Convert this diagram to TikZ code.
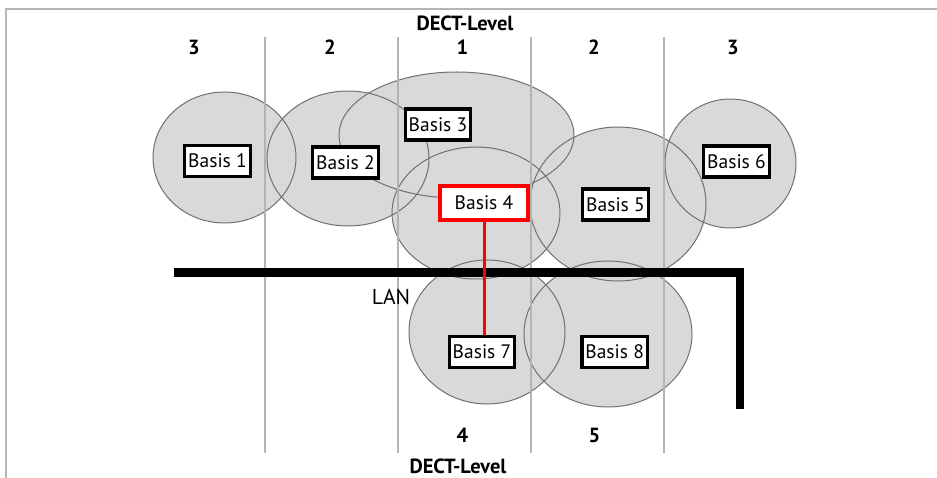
\documentclass[tikz,border=0pt]{standalone}
\usepackage{fontspec}
\setmainfont{PT Sans}
\definecolor{zonegray}{HTML}{D9D9D9}
\definecolor{zoneedge}{HTML}{707070}
\definecolor{gridgray}{HTML}{B3B3B3}
\definecolor{framegray}{HTML}{B5B5B5}
\definecolor{linkred}{HTML}{FF0000}
\begin{document}
\begin{tikzpicture}[x=1pt,y=-1pt,
  framestyle/.style={draw=framegray,line width=2.2pt},
  zonefill/.style={fill=zonegray},
  zoneline/.style={draw=zoneedge,line width=1pt},
  gridline/.style={draw=gridgray,line width=1.8pt},
  lanline/.style={draw=black,line width=8.5pt,line join=miter},
  linkline/.style={draw=linkred,line width=3pt},
  basis/.style={draw=black,fill=white,line width=3.3pt,inner xsep=3.5pt,inner ysep=2pt,
    minimum height=31pt,font=\fontsize{19.5}{20}\selectfont},
  lvl/.style={font=\bfseries\fontsize{20.5}{22}\selectfont,inner sep=0pt},
  lantext/.style={font=\fontsize{21.5}{23}\selectfont,inner sep=0pt}
  ]
\useasboundingbox (0,0) rectangle (937,478);
% frame
\coordinate (fbl) at (6,478);
\coordinate (ftl) at (6,9);
\coordinate (ftr) at (937,9);
\draw[framestyle] (fbl) -- (ftl) -- (ftr);
% zone centres
\coordinate (z1) at (224.5,157.5);
\coordinate (z2) at (348,158.5);
\coordinate (z3) at (456.5,135);
\coordinate (z4) at (476,213);
\coordinate (z5) at (618,204);
\coordinate (z6) at (730.5,163.5);
\coordinate (z7) at (487,332);
\coordinate (z8) at (608,334);
% fills
\fill[zonefill] (z1) ellipse [x radius=71.5pt,y radius=65.5pt];
\fill[zonefill] (z2) ellipse [x radius=81pt,y radius=67.5pt];
\fill[zonefill] (z3) ellipse [x radius=117.5pt,y radius=63pt];
\fill[zonefill] (z4) ellipse [x radius=84pt,y radius=66pt];
\fill[zonefill] (z5) ellipse [x radius=88pt,y radius=77pt];
\fill[zonefill] (z6) ellipse [x radius=65.5pt,y radius=64.5pt];
\fill[zonefill] (z7) ellipse [x radius=78pt,y radius=72pt];
\fill[zonefill] (z8) ellipse [x radius=84pt,y radius=73pt];
% outlines
\draw[zoneline] (z1) ellipse [x radius=71.5pt,y radius=65.5pt];
\draw[zoneline] (z2) ellipse [x radius=81pt,y radius=67.5pt];
\draw[zoneline] (z3) ellipse [x radius=117.5pt,y radius=63pt];
\draw[zoneline] (z4) ellipse [x radius=84pt,y radius=66pt];
\draw[zoneline] (z5) ellipse [x radius=88pt,y radius=77pt];
\draw[zoneline] (z6) ellipse [x radius=65.5pt,y radius=64.5pt];
\draw[zoneline] (z7) ellipse [x radius=78pt,y radius=72pt];
\draw[zoneline] (z8) ellipse [x radius=84pt,y radius=73pt];
% grid lines
\foreach \gx [count=\i] in {265,398,531,664}{
  \coordinate (gt\i) at (\gx,37);
  \coordinate (gb\i) at (\gx,453);
  \draw[gridline] (gt\i) -- (gb\i);
}
% LAN
\coordinate (lanL) at (174,272.5);
\coordinate (lanC) at (740,272.5);
\coordinate (lanE) at (740,409);
\draw[lanline] (lanL) -- (lanC) -- (lanE);
\node[lantext] (lan) at (391,297) {LAN};
% boxes
\node[basis] (b1) at (217.5,161) {Basis 1};
\node[basis] (b2) at (345.5,162.5) {Basis 2};
\node[basis] (b3) at (438,124.5) {Basis 3};
\node[basis,draw=linkred,minimum width=88pt,minimum height=34pt] (b4) at (484,203) {Basis 4};
\node[basis] (b5) at (615.5,204.5) {Basis 5};
\node[basis] (b6) at (736.5,161.5) {Basis 6};
\node[basis] (b7) at (482,352) {Basis 7};
\node[basis] (b8) at (614.7,352) {Basis 8};
\draw[linkline] (b4.south) -- (b4.south |- b7.north);
% level labels
\node[lvl,anchor=base] (dtop) at (465,30.5) {DECT-Level};
\node[lvl,anchor=base] (t1) at (194,55) {3};
\node[lvl,anchor=base] (t2) at (330,55) {2};
\node[lvl,anchor=base] (t3) at (462.5,55) {1};
\node[lvl,anchor=base] (t4) at (594,55) {2};
\node[lvl,anchor=base] (t5) at (733,55) {3};
\node[lvl,anchor=base] (u1) at (462.5,442) {4};
\node[lvl,anchor=base] (u2) at (594.5,442) {5};
\node[lvl,anchor=base] (dbot) at (458,473) {DECT-Level};
\end{tikzpicture}
\end{document}
